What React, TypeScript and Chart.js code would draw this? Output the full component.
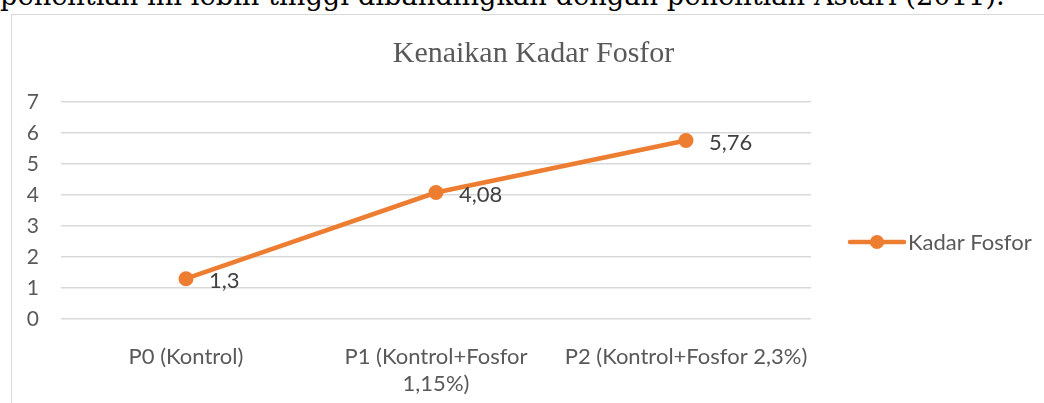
import { useEffect, useRef } from "react";
import { Chart, registerables } from "chart.js";
Chart.register(...registerables);

const categories: (string | string[])[] = [
  "P0 (Kontrol)",
  ["P1 (Kontrol+Fosfor", "1,15%)"],
  "P2 (Kontrol+Fosfor 2,3%)",
];
const kadarFosfor = [1.3, 4.08, 5.76];
const seriesName = "Kadar Fosfor";
const chartTitle = "Kenaikan Kadar Fosfor";
const yMin = 0;
const yMax = 7;
const yStep = 1;
const topText = "penelitian ini lebih tinggi dibandingkan dengan penelitian Astari (2011).";

const ORANGE = "#ED7D31";
const GREY_TEXT = "#595959";
const LABEL_TEXT = "#404040";
const SANS = "Lato, 'Liberation Sans', sans-serif";
const SERIF = "'Liberation Serif', 'DejaVu Serif', serif";
const BODY_SERIF = "'DejaVu Serif', 'Liberation Serif', serif";

const fmt = (v: number) => String(v).replace(".", ",");

const overlayPlugin = {
  id: "overlay",
  afterDatasetsDraw(chart: any) {
    const ctx = chart.ctx as CanvasRenderingContext2D;
    const meta = chart.getDatasetMeta(0);
    ctx.save();
    // data labels
    ctx.font = `22px ${SANS}`;
    ctx.fillStyle = LABEL_TEXT;
    ctx.textAlign = "left";
    ctx.textBaseline = "middle";
    meta.data.forEach((pt: any, i: number) => {
      ctx.fillText(fmt(kadarFosfor[i]), pt.x + 23, pt.y + 2);
    });
    // title
    ctx.font = `30px ${SERIF}`;
    ctx.fillStyle = GREY_TEXT;
    ctx.textAlign = "center";
    ctx.textBaseline = "alphabetic";
    ctx.fillText(chartTitle, 521.5, 47);
    // legend
    const ly = 227;
    ctx.strokeStyle = ORANGE;
    ctx.lineWidth = 4.5;
    ctx.lineCap = "round";
    ctx.beginPath();
    ctx.moveTo(838, ly);
    ctx.lineTo(892, ly);
    ctx.stroke();
    ctx.fillStyle = ORANGE;
    ctx.beginPath();
    ctx.arc(865, ly, 7, 0, Math.PI * 2);
    ctx.fill();
    ctx.font = `22px ${SANS}`;
    ctx.fillStyle = GREY_TEXT;
    ctx.textAlign = "left";
    ctx.textBaseline = "middle";
    ctx.fillText(seriesName, 896, ly + 1);
    ctx.restore();
  },
};

function LineChart() {
  const ref = useRef<HTMLCanvasElement | null>(null);
  useEffect(() => {
    if (!ref.current) return;
    const chart = new Chart(ref.current, {
      type: "line",
      data: {
        labels: categories,
        datasets: [
          {
            label: seriesName,
            data: kadarFosfor,
            borderColor: ORANGE,
            backgroundColor: ORANGE,
            borderWidth: 4.5,
            pointRadius: 7.5,
            pointHoverRadius: 7.5,
            pointBackgroundColor: ORANGE,
            pointBorderWidth: 0,
            tension: 0,
          },
        ],
      },
      options: {
        responsive: false,
        animation: false,
        layout: { padding: { left: 0, top: 87, right: 233, bottom: 0 } },
        plugins: {
          legend: { display: false },
          title: { display: false },
          tooltip: { enabled: false },
        },
        scales: {
          x: {
            offset: true,
            grid: { display: false, drawTicks: false, offset: true },
            border: { display: false },
            ticks: {
              color: GREY_TEXT,
              font: { family: SANS, size: 22, lineHeight: 1.25 },
              padding: 24,
              maxRotation: 0,
              minRotation: 0,
              autoSkip: false,
            },
            afterFit: (s: any) => {
              s.height = 84;
            },
          },
          y: {
            min: yMin,
            max: yMax,
            grid: { color: "#d9d9d9", lineWidth: 1.5, drawTicks: false },
            border: { display: false },
            ticks: {
              stepSize: yStep,
              color: GREY_TEXT,
              font: { family: SANS, size: 21 },
              padding: 22,
            },
            afterFit: (s: any) => {
              s.width = 49;
            },
          },
        },
      },
      plugins: [overlayPlugin],
    });
    return () => chart.destroy();
  }, []);
  return (
    <canvas
      ref={ref}
      width={1032}
      height={388}
      style={{ position: "absolute", left: 12, top: 15, width: 1032, height: 388 }}
    />
  );
}

export default function App() {
  return (
    <div
      style={{
        position: "fixed",
        left: 0,
        top: 0,
        width: 1044,
        height: 403,
        overflow: "hidden",
        background: "#fff",
      }}
    >
      <div
        style={{
          position: "absolute",
          left: 0,
          top: -18,
          whiteSpace: "nowrap",
          fontFamily: BODY_SERIF,
          fontSize: 27.3,
          lineHeight: "28px",
          color: "#000",
        }}
      >
        {topText}
      </div>
      <div
        style={{
          position: "absolute",
          left: 11,
          top: 14,
          width: 1100,
          height: 450,
          border: "1px solid #d9d9d9",
          boxSizing: "border-box",
        }}
      />
      <LineChart />
    </div>
  );
}
